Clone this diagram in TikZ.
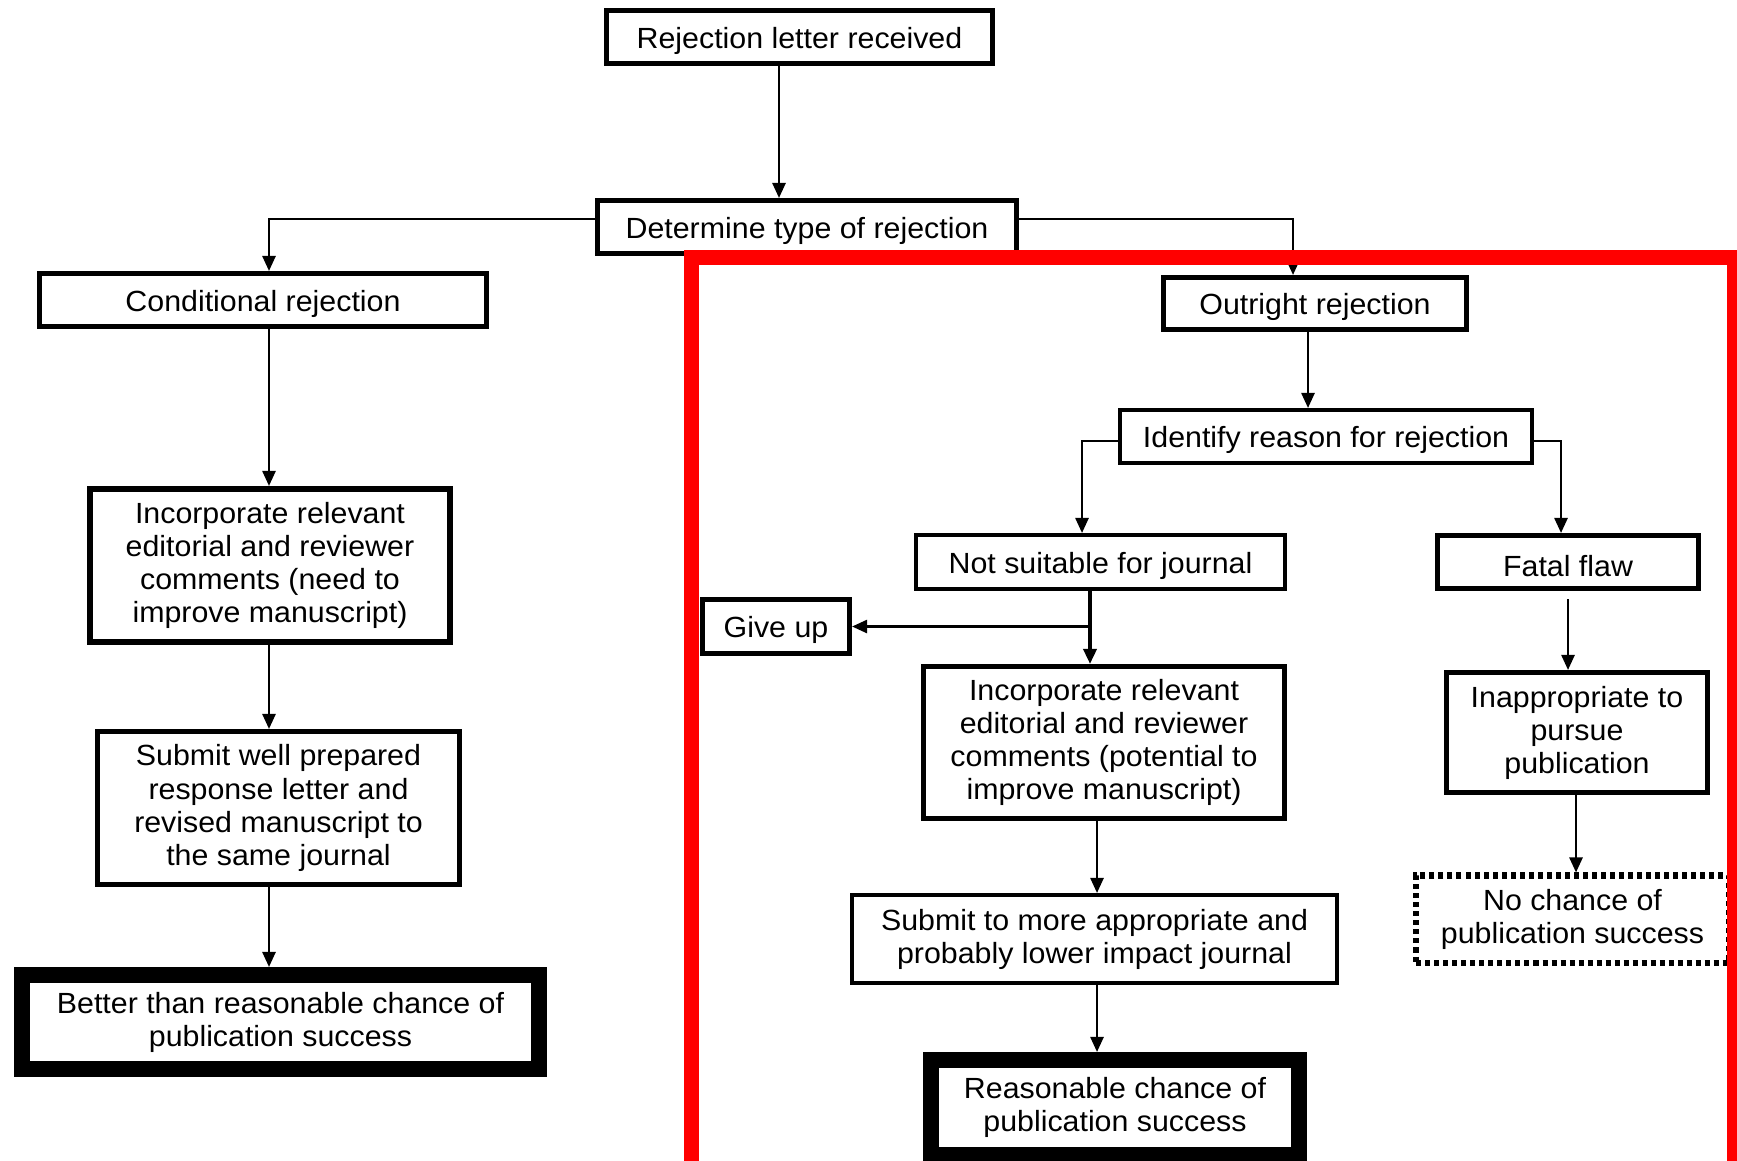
\documentclass[tikz,border=0pt]{standalone}
\usepackage{fontspec}
\setmainfont{Liberation Sans}[FakeStretch=1.04]
\usepackage{tikz}
\usetikzlibrary{arrows.meta,calc}

\begin{document}
\begin{tikzpicture}[x=0.01cm,y=-0.01cm,
box/.style={rectangle,draw,fill=white,align=center,inner sep=0pt,
line width=0.05cm,font=\fontsize{8.3}{9.4}\selectfont,
execute at begin node={\rule{0pt}{8.2pt}}},
thinbox/.style={box,line width=0.04cm},
heavybox/.style={box,line width=0.16cm},
dotbox/.style={box,line width=0.06cm,dash pattern=on 0.05cm off 0.04cm},
arrow/.style={-{Triangle[length=0.15cm,width=0.13cm]},line width=0.025cm},
redframe/.style={draw=red,line width=0.15cm}]
\useasboundingbox (0,0) rectangle (1737,1160);
% top of the tree
\node[box,minimum width=3.86cm,minimum height=0.53cm] (letter) at (799.5,37) {Rejection letter received};
\node[box,minimum width=4.19cm,minimum height=0.53cm] (type) at (807,227) {Determine type of rejection};
\node[box,minimum width=4.47cm,minimum height=0.53cm] (cond) at (263,300) {Conditional rejection};
\node[box,minimum width=3.03cm,minimum height=0.52cm] (outright) at (1315,303.5) {Outright rejection};
% conditional branch
\node[box,line width=0.06cm,minimum width=3.60cm,minimum height=1.53cm] (incorpA) at (270,565.5) {Incorporate relevant\\editorial and reviewer\\comments (need to\\improve manuscript)};
\node[box,minimum width=3.62cm,minimum height=1.53cm] (submitA) at (278.5,808) {Submit well prepared\\response letter and\\revised manuscript to\\the same journal};
\node[heavybox,minimum width=5.17cm,minimum height=0.94cm] (better) at (280.5,1022) {Better than reasonable chance of\\publication success};
% outright branch
\node[thinbox,minimum width=4.12cm,minimum height=0.53cm] (identify) at (1326,436.5) {Identify reason for rejection};
\node[thinbox,minimum width=3.69cm,minimum height=0.54cm] (notsuit) at (1100.5,562) {Not suitable for journal};
\node[box,minimum width=2.61cm,minimum height=0.53cm] (fatal) at (1568,562) {Fatal flaw};
\node[box,minimum width=1.47cm,minimum height=0.54cm] (giveup) at (776,626.5) {Give up};
\node[box,minimum width=3.61cm,minimum height=1.52cm] (incorpB) at (1104,742.5) {Incorporate relevant\\editorial and reviewer\\comments (potential to\\improve manuscript)};
\node[thinbox,minimum width=4.85cm,minimum height=0.88cm] (submitB) at (1094.5,939) {Submit to more appropriate and\\probably lower impact journal};
\node[heavybox,minimum width=3.68cm,minimum height=0.95cm] (reason) at (1115,1107.5) {Reasonable chance of\\publication success};
\node[box,minimum width=2.61cm,minimum height=1.20cm] (inapp) at (1577,732.5) {Inappropriate to\\pursue\\publication};
\node[dotbox,minimum width=3.12cm,minimum height=0.87cm] (nochance) at (1572.5,919) {No chance of\\publication success};
% lines of the connectors
\coordinate (colL) at (779,0);
\coordinate (colC) at (269,0);
\coordinate (colR) at (1293,0);
\coordinate (colO) at (1308,0);
\coordinate (colNS) at (1082,0);
\coordinate (colFF) at (1561,0);
\coordinate (colN) at (1090,0);
\coordinate (colB) at (1097,0);
\coordinate (colF) at (1568,0);
\coordinate (colI) at (1576,0);
\coordinate (rowT) at (0,219);
\coordinate (rowI) at (0,441);
\draw[arrow] (letter.south -| colL) -- (type.north -| colL);
\draw[arrow] (type.west |- rowT) -| (cond.north -| colC);
\draw[arrow] (type.east |- rowT) -| (outright.north -| colR);
\draw[arrow] (cond.south -| colC) -- (incorpA.north -| colC);
\draw[arrow] (incorpA.south -| colC) -- (submitA.north -| colC);
\draw[arrow] (submitA.south -| colC) -- (better.north -| colC);
\draw[arrow] (outright.south -| colO) -- (identify.north -| colO);
\draw[arrow] (identify.west |- rowI) -| (notsuit.north -| colNS);
\draw[arrow] (identify.east |- rowI) -| (fatal.north -| colFF);
\draw[arrow,line width=0.035cm] (notsuit.south -| colN) -- (incorpB.north -| colN);
\draw[arrow] (giveup.east -| colN) -- (giveup.east);
\draw[arrow] (incorpB.south -| colB) -- (submitB.north -| colB);
\draw[arrow] (submitB.south -| colB) -- (reason.north -| colB);
\draw[arrow] ([yshift=-0.08cm]fatal.south -| colF) -- (inapp.north -| colF);
\draw[arrow] (inapp.south -| colI) -- (nochance.north -| colI);
% red frame
\draw[redframe] (691.5,257) rectangle (1734,1250);
\end{tikzpicture}
\end{document}
